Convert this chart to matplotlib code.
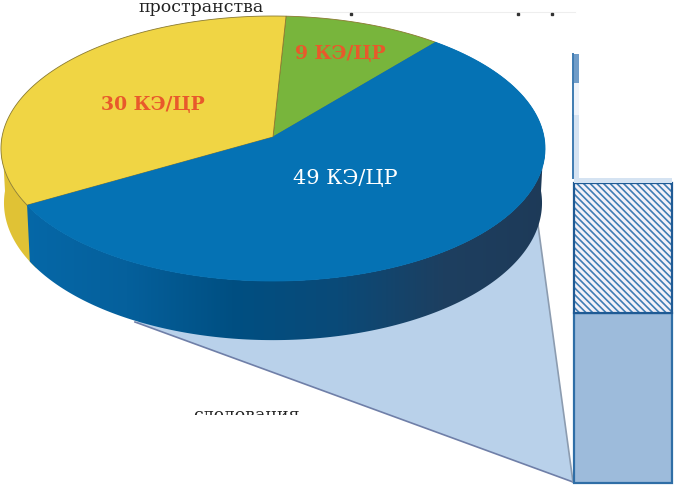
import numpy as np
import matplotlib
matplotlib.use('Agg')
import matplotlib.pyplot as plt
from matplotlib.patches import Polygon, Rectangle
from matplotlib.colors import LinearSegmentedColormap

plt.rcParams['hatch.linewidth'] = 1.2

# pie values, going clockwise from the green slice
pie_labels = ['9 КЭ/ЦР', '49 КЭ/ЦР', '30 КЭ/ЦР']
pie_values = [9, 49, 30]
pie_colors = ['#78b53c', '#0572b4', '#f0d544']
label_colors = ['#e8592b', '#ffffff', '#e8592b']
label_pos = [(340, 54), (345, 178), (153, 105)]

# stacked bar, heights
bar_heights = [170, 130, 5, 63, 32, 29]

fig = plt.figure(figsize=(6.76, 4.86), dpi=100)
ax = fig.add_axes([0, 0, 1, 1])


def rim(theta, y0, a, c=0.0868, k=271):
    # circle seen in perspective, theta in degrees
    t = np.radians(theta)
    w = 1 + c*np.sin(t)
    return np.column_stack((273 + k*np.cos(t)/w, (y0 + a*np.sin(t))/w))


def top(theta):
    return rim(theta, 137, -119.6)


def bottom(theta):
    return rim(theta, 191, -119.6, k=268)


# connector behind the pie
ax.add_patch(Polygon([(135, 322), (573, 482), (538, 225), (300, 300)],
                     fc='#b9d1ea', ec='none', zorder=1))
ax.plot([135, 573], [322, 482], color='#6f7fa8', lw=1.2, zorder=2)
ax.plot([538, 573], [225, 482], color='#8c9cb0', lw=1.2, zorder=2)

# slice angles
fracs = np.array(pie_values)/sum(pie_values)*360
starts = 87 - np.concatenate(([0], np.cumsum(fracs)[:-1]))
ends = starts - fracs

# side wall, yellow piece
th = np.linspace(starts[2] + 3, -180, 40)
ax.add_patch(Polygon(np.vstack((top(th), bottom(th[::-1]))),
                     fc='#e0c235', ec='none', zorder=3))
# side wall, blue piece with gradient
th = np.linspace(ends[1], 0, 200)
wall = Polygon(np.vstack((top(th), bottom(th[::-1]))), fc='none', ec='none', zorder=3)
ax.add_patch(wall)
cmap = LinearSegmentedColormap.from_list('wall', ['#0668a8', '#05609c', '#004f82', '#0a4a78',
                                                  '#1d3f60', '#1e3a58'])
im = ax.imshow(np.linspace(0, 1, 256).reshape(1, -1), cmap=cmap, extent=(20, 550, 350, 140),
               aspect='auto', zorder=3)
im.set_clip_path(wall)

# top faces
apex = np.array([[273, 137]])
for s, e, col in zip(starts, ends, pie_colors):
    th = np.linspace(s, e, 120)
    ax.add_patch(Polygon(np.vstack((apex, top(th))), fc=col, ec='#8a7a30' if col != pie_colors[1] else col,
                         lw=0.6, zorder=4))
# blue goes on top of the neighbours' outlines
th = np.linspace(starts[1], ends[1], 200)
ax.add_patch(Polygon(np.vstack((apex, top(th))), fc=pie_colors[1], ec='none', zorder=5))

for lab, col, pos in zip(pie_labels, label_colors, label_pos):
    bold = col != '#ffffff'
    ax.text(pos[0], pos[1], lab, color=col, fontsize=13.5 if bold else 15, family='DejaVu Serif',
            fontweight='bold' if bold else 'normal', ha='center', va='center', zorder=6)

# stacked bar
x0, x1 = 574, 672
y = 483
for i, h in enumerate(bar_heights):
    yt = y - h
    if i == 0:
        ax.add_patch(Rectangle((x0, yt), x1-x0, h, fc='#9dbbdb', ec='#2f6ea6', lw=1.6, zorder=3))
    elif i == 1:
        ax.add_patch(Rectangle((x0, yt), x1-x0, h, fc='#f4f1f8', ec='#3f7db4', lw=0,
                               hatch='\\\\\\\\\\', zorder=3))
        ax.add_patch(Rectangle((x0, yt), x1-x0, h, fc='none', ec='#1f5a94', lw=1.6, zorder=3))
    elif i == 2:
        ax.add_patch(Rectangle((x0, yt), x1-x0, h, fc='#d5e3f2', ec='none', zorder=3))
    else:
        # only a sliver of these segments is left in the picture
        fc = ['#d5e3f2', '#eef3fa', '#6f9cc8'][i-3]
        ax.add_patch(Rectangle((x0-1, yt), 6, h, fc=fc, ec='none', zorder=3))
        ax.plot([x0-1, x0-1], [y, yt], color='#3f7cb2', lw=1.4, zorder=3)
    y = yt

# cut off captions
ax.text(201, 8, 'пространства', fontsize=12.5, family='DejaVu Serif', color='#222222',
        ha='center', va='center', zorder=6)
t = ax.text(246, 415, 'следования', fontsize=12.5, family='DejaVu Serif', color='#222222',
            ha='center', va='center', zorder=6, clip_on=True)
t.set_clip_path(Rectangle((150, 400), 200, 15, transform=ax.transData))
ax.plot([351, 518, 552], [14, 14, 14], ls='none', marker='s', ms=1.5, color='#333333', zorder=6)
ax.plot([311, 575], [12, 12], color='#eeeeee', lw=0.8, zorder=1)

ax.set_xlim(0, 676)
ax.set_ylim(486, 0)
ax.axis('off')

fig.savefig('out.png', dpi=100)
